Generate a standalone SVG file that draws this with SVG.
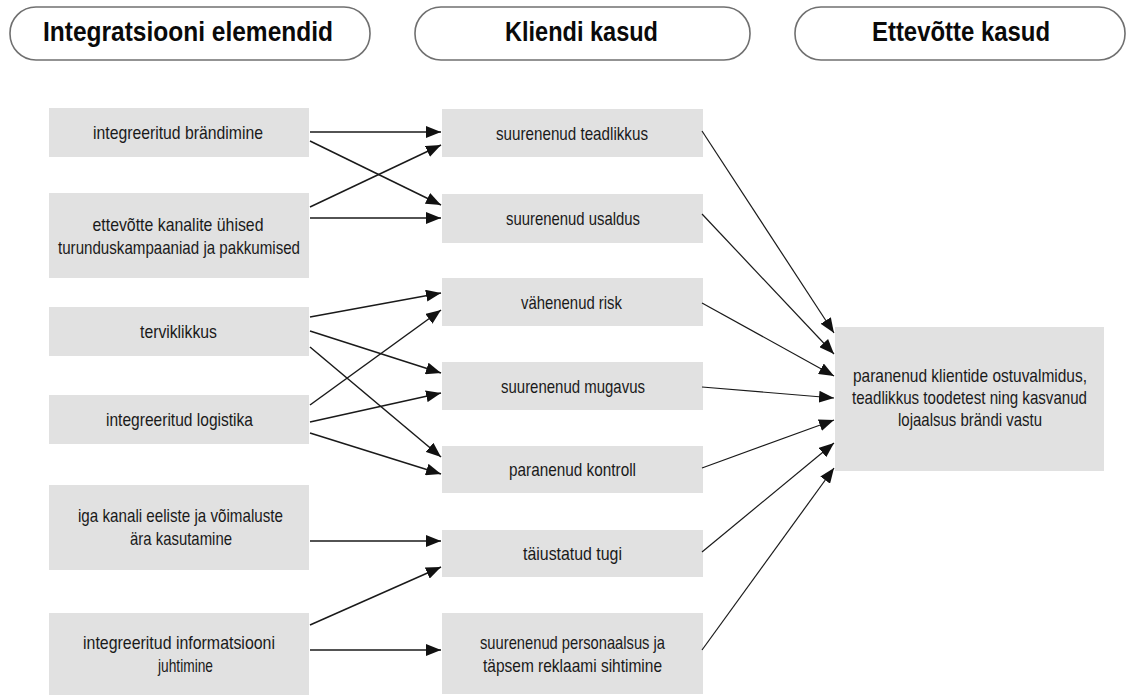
<svg xmlns="http://www.w3.org/2000/svg" width="1131" height="695" viewBox="0 0 1131 695">
<defs>
<style>
.hdr{fill:#fff;stroke:#707070;stroke-width:1.6}
.ht{font-family:"Liberation Sans Narrow","Liberation Sans",Arial,sans-serif;font-weight:bold;font-size:27px;fill:#0a0a0a;text-anchor:middle}
.box{fill:#e1e1e1}
.t{font-family:"Liberation Sans Narrow","Liberation Sans",Arial,sans-serif;font-size:19px;fill:#1a1a1a;text-anchor:middle}
.c{stroke:#1a1a1a;stroke-width:1.5;fill:none;marker-end:url(#ah)}
.c2{stroke:#1a1a1a;stroke-width:1.2;fill:none;marker-end:url(#ah)}
</style>
<marker id="ah" viewBox="0 0 15 12" refX="15" refY="6" markerWidth="15" markerHeight="12" markerUnits="userSpaceOnUse" orient="auto">
<path d="M0,0 L15,6 L0,12 z" fill="#111"/>
</marker>
</defs>
<rect width="1131" height="695" fill="#fff"/>

<g id="header1"><rect class="hdr" x="10" y="7" width="360" height="53" rx="26" ry="26"/><text class="ht" x="188" y="41" textLength="290" lengthAdjust="spacingAndGlyphs">Integratsiooni elemendid</text></g>
<g id="header2"><rect class="hdr" x="415" y="7" width="335" height="53" rx="26" ry="26"/><text class="ht" x="581.5" y="41" textLength="153" lengthAdjust="spacingAndGlyphs">Kliendi kasud</text></g>
<g id="header3"><rect class="hdr" x="795" y="7" width="330" height="53" rx="26" ry="26"/><text class="ht" x="961" y="41" textLength="178" lengthAdjust="spacingAndGlyphs">Ettevõtte kasud</text></g>

<g id="l1"><rect class="box" x="49" y="108" width="260" height="49"/><text class="t" x="178" y="139" textLength="170" lengthAdjust="spacingAndGlyphs">integreeritud brändimine</text></g>
<g id="l2"><rect class="box" x="49" y="193" width="260" height="85"/><text class="t" x="178" y="231" textLength="171" lengthAdjust="spacingAndGlyphs">ettevõtte kanalite ühised</text><text class="t" x="179" y="254" textLength="242" lengthAdjust="spacingAndGlyphs">turunduskampaaniad ja pakkumised</text></g>
<g id="l3"><rect class="box" x="49" y="307" width="260" height="49"/><text class="t" x="178.5" y="338" textLength="77" lengthAdjust="spacingAndGlyphs">terviklikkus</text></g>
<g id="l4"><rect class="box" x="49" y="395" width="260" height="49"/><text class="t" x="179.5" y="426" textLength="147" lengthAdjust="spacingAndGlyphs">integreeritud logistika</text></g>
<g id="l5"><rect class="box" x="49" y="485" width="260" height="85"/><text class="t" x="180.5" y="522" textLength="205" lengthAdjust="spacingAndGlyphs">iga kanali eeliste ja võimaluste</text><text class="t" x="181" y="545" textLength="102" lengthAdjust="spacingAndGlyphs">ära kasutamine</text></g>
<g id="l6"><rect class="box" x="49" y="613" width="260" height="82"/><text class="t" x="179" y="649" textLength="192" lengthAdjust="spacingAndGlyphs">integreeritud informatsiooni</text><text class="t" x="185.5" y="672" textLength="55" lengthAdjust="spacingAndGlyphs">juhtimine</text></g>

<g id="m1"><rect class="box" x="442" y="109" width="261" height="48"/><text class="t" x="572" y="139.5" textLength="152" lengthAdjust="spacingAndGlyphs">suurenenud teadlikkus</text></g>
<g id="m2"><rect class="box" x="442" y="194" width="261" height="49"/><text class="t" x="573" y="225" textLength="134" lengthAdjust="spacingAndGlyphs">suurenenud usaldus</text></g>
<g id="m3"><rect class="box" x="442" y="278" width="261" height="48"/><text class="t" x="571.5" y="308.5" textLength="101" lengthAdjust="spacingAndGlyphs">vähenenud risk</text></g>
<g id="m4"><rect class="box" x="442" y="362" width="261" height="48"/><text class="t" x="573" y="392.5" textLength="144" lengthAdjust="spacingAndGlyphs">suurenenud mugavus</text></g>
<g id="m5"><rect class="box" x="442" y="446" width="261" height="47"/><text class="t" x="572.5" y="476" textLength="127" lengthAdjust="spacingAndGlyphs">paranenud kontroll</text></g>
<g id="m6"><rect class="box" x="442" y="530" width="261" height="47"/><text class="t" x="572.5" y="560" textLength="99" lengthAdjust="spacingAndGlyphs">täiustatud tugi</text></g>
<g id="m7"><rect class="box" x="442" y="613" width="261" height="81"/><text class="t" x="572.5" y="649" textLength="185" lengthAdjust="spacingAndGlyphs">suurenenud personaalsus ja</text><text class="t" x="572.5" y="672" textLength="179" lengthAdjust="spacingAndGlyphs">täpsem reklaami sihtimine</text></g>

<g id="r1"><rect class="box" x="835" y="327" width="269" height="144"/><text class="t" x="970" y="382" textLength="234" lengthAdjust="spacingAndGlyphs">paranenud klientide ostuvalmidus,</text><text class="t" x="969.5" y="404" textLength="235" lengthAdjust="spacingAndGlyphs">teadlikkus toodetest ning kasvanud</text><text class="t" x="970" y="426" textLength="144" lengthAdjust="spacingAndGlyphs">lojaalsus brändi vastu</text></g>

<g id="connectors">
<line class="c" x1="310" y1="132" x2="441" y2="132"/>
<line class="c" x1="310" y1="141" x2="441" y2="205"/>
<line class="c" x1="310" y1="207" x2="441" y2="145"/>
<line class="c" x1="310" y1="218" x2="441" y2="218"/>
<line class="c" x1="310" y1="317" x2="441" y2="293"/>
<line class="c" x1="310" y1="331" x2="441" y2="373"/>
<line class="c" x1="310" y1="347" x2="441" y2="457"/>
<line class="c" x1="310" y1="405" x2="441" y2="310"/>
<line class="c" x1="310" y1="422" x2="441" y2="393"/>
<line class="c" x1="310" y1="433" x2="441" y2="474"/>
<line class="c" x1="310" y1="541" x2="441" y2="541"/>
<line class="c" x1="310" y1="625" x2="441" y2="567"/>
<line class="c" x1="310" y1="650" x2="441" y2="650"/>
<line class="c2" x1="702" y1="131" x2="834" y2="333"/>
<line class="c2" x1="702" y1="214" x2="834" y2="354"/>
<line class="c2" x1="702" y1="303" x2="834" y2="376"/>
<line class="c2" x1="702" y1="387" x2="834" y2="398"/>
<line class="c2" x1="702" y1="468" x2="834" y2="420"/>
<line class="c2" x1="702" y1="552" x2="834" y2="443"/>
<line class="c2" x1="702" y1="650" x2="834" y2="468"/>
</g>
</svg>
